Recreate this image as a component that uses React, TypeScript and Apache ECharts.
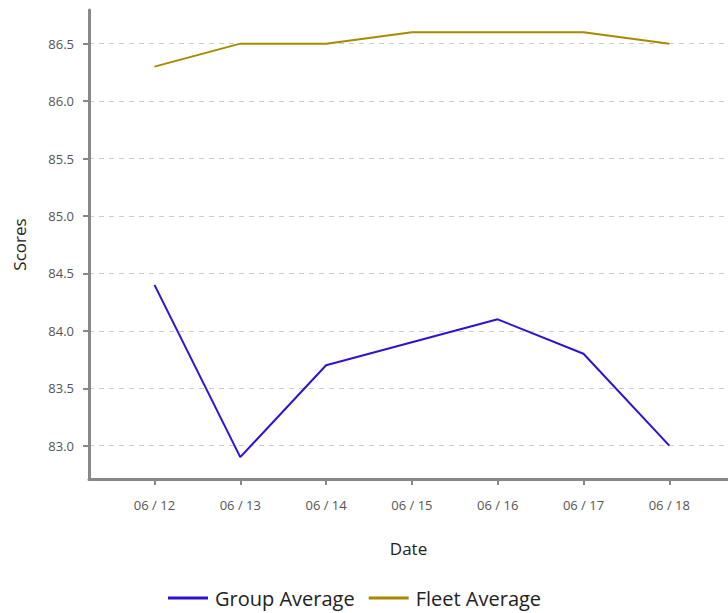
import React, { useEffect, useRef } from "react";
import * as echarts from "echarts";

const categories = ["06 / 12", "06 / 13", "06 / 14", "06 / 15", "06 / 16", "06 / 17", "06 / 18"];
const groupAverage = [84.4, 82.9, 83.7, 83.9, 84.1, 83.8, 83.0];
const fleetAverage = [86.3, 86.5, 86.5, 86.6, 86.6, 86.6, 86.5];
const yTicks = [83.0, 83.5, 84.0, 84.5, 85.0, 85.5, 86.0, 86.5];

export default function App() {
  const ref = useRef<HTMLDivElement>(null);
  useEffect(() => {
    if (!ref.current) return;
    const chart = echarts.init(ref.current, null, { renderer: "svg" });
    const font = "'Open Sans', 'Noto Sans', sans-serif";
    const idx = categories.map((_, i) => i);
    chart.setOption({
      animation: false,
      textStyle: { fontFamily: font },
      grid: { left: 89, right: 0, top: 10, bottom: 134, containLabel: false },
      xAxis: {
        type: "value",
        min: -0.763,
        max: 6.684,
        name: "Date",
        nameLocation: "middle",
        nameGap: 61,
        nameTextStyle: { fontSize: 17, color: "#222", fontFamily: font },
        axisLine: { show: true, onZero: false, lineStyle: { color: "#888", width: 3 } },
        axisTick: { show: true, length: 6, lineStyle: { color: "#888", width: 2 }, customValues: idx },
        axisLabel: {
          customValues: idx,
          margin: 19,
          fontSize: 13,
          color: "#555",
          fontFamily: font,
          formatter: (v: number) => categories[Math.round(v)] ?? "",
        },
        splitLine: { show: false },
      },
      yAxis: {
        type: "value",
        min: 82.71,
        max: 86.793,
        name: "Scores",
        nameLocation: "middle",
        nameGap: 61,
        nameRotate: 90,
        nameTextStyle: { fontSize: 17, color: "#222", fontFamily: font },
        axisLine: { show: true, onZero: false, lineStyle: { color: "#888", width: 3 } },
        axisTick: { show: true, length: 6, lineStyle: { color: "#888", width: 2 }, customValues: yTicks },
        axisLabel: {
          customValues: yTicks,
          margin: 15,
          fontSize: 13,
          color: "#555",
          fontFamily: font,
          formatter: (v: number) => v.toFixed(1),
        },
        splitLine: { show: true, lineStyle: { color: "#ccc", type: [5, 5], width: 1 } },
      },
      legend: {
        bottom: 0,
        left: 163,
        icon: "rect",
        itemWidth: 40,
        itemHeight: 3,
        itemGap: 14,
        textStyle: { fontSize: 20, color: "#222", fontFamily: font, padding: [0, 0, 0, 2] },
        data: ["Group Average", "Fleet Average"],
      },
      series: [
        {
          name: "Group Average",
          type: "line",
          symbol: "none",
          data: groupAverage.map((v, i) => [i, v]),
          lineStyle: { color: "#2d12d6", width: 2 },
          itemStyle: { color: "#2d12d6" },
        },
        {
          name: "Fleet Average",
          type: "line",
          symbol: "none",
          data: fleetAverage.map((v, i) => [i, v]),
          lineStyle: { color: "#a68a00", width: 2 },
          itemStyle: { color: "#a68a00" },
        },
      ],
    });
    return () => chart.dispose();
  }, []);
  return <div ref={ref} style={{ width: 728, height: 613, position: "absolute", left: 0, top: 0 }} />;
}
